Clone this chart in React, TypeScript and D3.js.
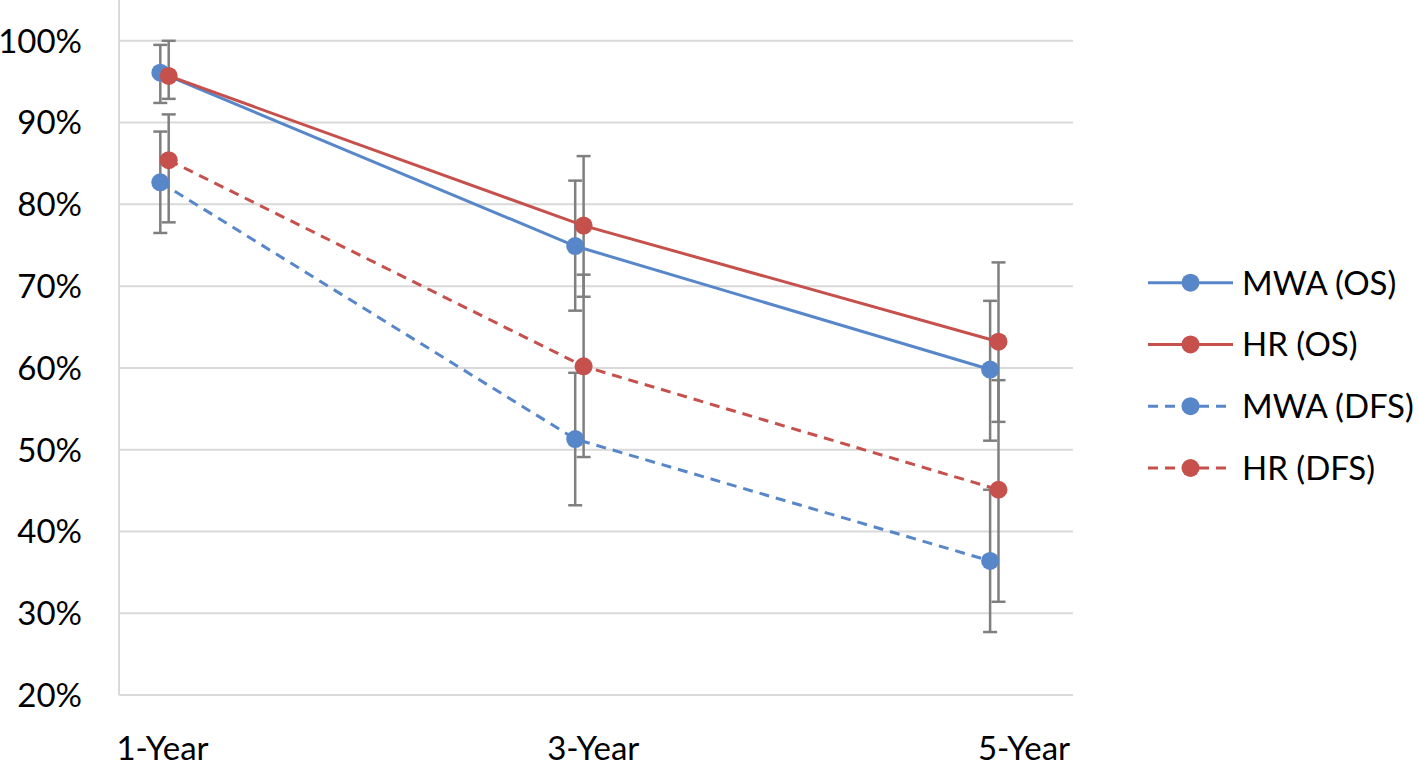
import React from "react";
import * as d3 from "d3";

const categories = ["1-Year", "3-Year", "5-Year"];
const yTicks = [20, 30, 40, 50, 60, 70, 80, 90, 100];

const seriesNames = ["MWA (OS)", "HR (OS)", "MWA (DFS)", "HR (DFS)"];
const mwaOS = [96.1, 74.9, 59.8];
const hrOS = [95.7, 77.4, 63.2];
const mwaDFS = [82.7, 51.3, 36.4];
const hrDFS = [85.4, 60.2, 45.1];

const mwaOSLow = [92.4, 67.0, 51.1];
const mwaOSHigh = [99.5, 82.9, 68.2];
const hrOSLow = [92.9, 68.7, 53.4];
const hrOSHigh = [100.0, 85.9, 72.9];
const mwaDFSLow = [76.5, 43.2, 27.7];
const mwaDFSHigh = [88.9, 59.4, 45.1];
const hrDFSLow = [77.8, 49.1, 31.4];
const hrDFSHigh = [91.0, 71.4, 58.5];

const BLUE = "#5787c9";
const RED = "#c5504c";
const GRID = "#d9d9d9";
const ERR = "#7f7f7f";
const FONT = "Lato, 'Open Sans', sans-serif";

type S = { name: string; values: number[]; low: number[]; high: number[]; color: string; dashed: boolean; offset: number };

const series: S[] = [
  { name: seriesNames[0], values: mwaOS, low: mwaOSLow, high: mwaOSHigh, color: BLUE, dashed: false, offset: -4.2 },
  { name: seriesNames[1], values: hrOS, low: hrOSLow, high: hrOSHigh, color: RED, dashed: false, offset: 4.2 },
  { name: seriesNames[2], values: mwaDFS, low: mwaDFSLow, high: mwaDFSHigh, color: BLUE, dashed: true, offset: -4.2 },
  { name: seriesNames[3], values: hrDFS, low: hrDFSLow, high: hrDFSHigh, color: RED, dashed: true, offset: 4.2 },
];

export default function App() {
  const W = 1418, H = 764;
  const plotL = 119, plotR = 1073, plotT = 40.8, plotB = 695;
  const y = d3.scaleLinear().domain([20, 100]).range([plotB, plotT]);
  const x = d3.scalePoint<string>().domain(categories).range([164.5, 994.3]);
  const xl = d3.scalePoint<string>().domain(categories).range([162.5, 1024]);
  const capW = 7;
  const R = 9;
  const FS = 33;

  const lineGen = (s: S) =>
    d3.line<number>()
      .x((_, i) => (x(categories[i]) as number) + s.offset)
      .y((v) => y(v))(s.values) as string;

  const legendX0 = 1148, legendX1 = 1233, legendTextX = 1242;
  const legendY = d3.scalePoint<string>().domain(seriesNames).range([282.7, 468]);

  return (
    <svg width={W} height={H} style={{ position: "absolute", left: 0, top: 0, background: "#fff" }}>
      {yTicks.filter((t) => t > 20).map((t) => (
        <line key={t} x1={plotL} x2={plotR} y1={y(t)} y2={y(t)} stroke={GRID} strokeWidth={2} />
      ))}
      <line x1={plotL} x2={plotL} y1={0} y2={plotB} stroke={GRID} strokeWidth={2} />
      <line x1={plotL} x2={plotR} y1={plotB} y2={plotB} stroke={GRID} strokeWidth={2} />
      {yTicks.map((t) => (
        <text key={t} x={82} y={y(t)} dy="0.36em" textAnchor="end" fontFamily={FONT} fontSize={FS} fill="#000">
          {t}%
        </text>
      ))}
      {categories.map((c) => (
        <text key={c} x={xl(c)} y={760} textAnchor="middle" fontFamily={FONT} fontSize={FS} fill="#000">
          {c}
        </text>
      ))}
      {series.map((s) =>
        categories.map((c, i) => {
          const cx = (x(c) as number) + s.offset;
          return (
            <g key={s.name + c} stroke={ERR} strokeWidth={2.5}>
              <line x1={cx} x2={cx} y1={y(s.low[i])} y2={y(s.high[i])} />
              <line x1={cx - capW} x2={cx + capW} y1={y(s.low[i])} y2={y(s.low[i])} />
              <line x1={cx - capW} x2={cx + capW} y1={y(s.high[i])} y2={y(s.high[i])} />
            </g>
          );
        })
      )}
      {series.map((s) => (
        <path key={s.name} d={lineGen(s)} fill="none" stroke={s.color} strokeWidth={3}
          strokeDasharray={s.dashed ? "10,7" : undefined} />
      ))}
      {series.map((s) =>
        s.values.map((v, i) => (
          <circle key={s.name + i} cx={(x(categories[i]) as number) + s.offset} cy={y(v)} r={R} fill={s.color} />
        ))
      )}
      {series.map((s) => {
        const ly = legendY(s.name) as number;
        return (
          <g key={"lg" + s.name}>
            <line x1={legendX0} x2={legendX1} y1={ly} y2={ly} stroke={s.color} strokeWidth={3}
              strokeDasharray={s.dashed ? "10,7" : undefined} />
            <circle cx={(legendX0 + legendX1) / 2} cy={ly} r={R} fill={s.color} />
            <text x={legendTextX} y={ly} dy="0.36em" fontFamily={FONT} fontSize={FS} fill="#000">
              {s.name}
            </text>
          </g>
        );
      })}
    </svg>
  );
}
